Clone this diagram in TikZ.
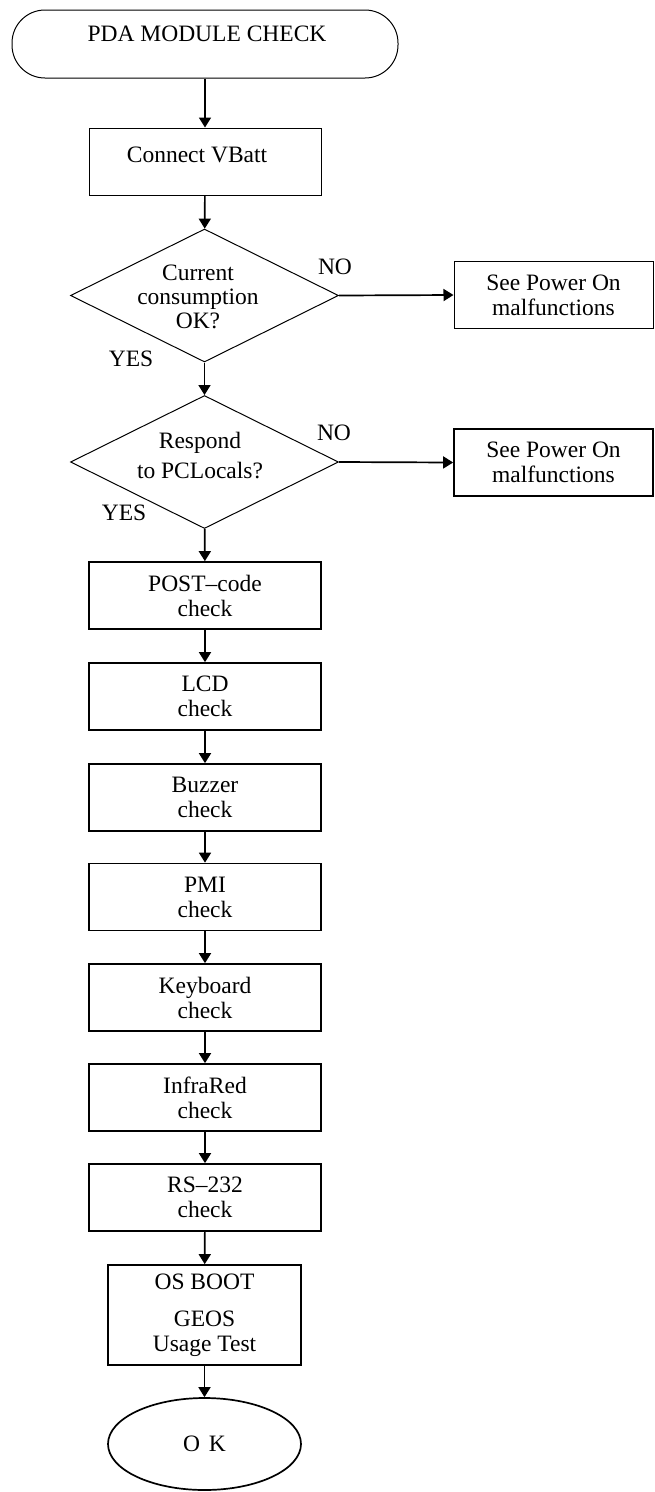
\documentclass[tikz,border=0pt]{standalone}
\usepackage{fontspec}
\setmainfont{Liberation Serif}
\usetikzlibrary{shapes.geometric,arrows.meta}
\begin{document}
\begin{tikzpicture}[x=1pt,y=-1pt,
  every node/.style={font=\fontsize{23.5}{25}\selectfont},
  txt/.style={inner sep=0pt,align=center},
  term/.style={draw,line width=1pt,rounded corners=33pt,minimum width=386pt,minimum height=68pt,inner sep=0pt},
  thinbox/.style={draw,line width=1pt,minimum width=232pt,minimum height=67pt,inner sep=0pt,align=center},
  procbox/.style={draw,line width=1.7pt,minimum width=232pt,minimum height=67pt,inner sep=0pt,align=center},
  sidebox/.style={draw,minimum width=199pt,minimum height=67pt,inner sep=0pt,align=center},
  decision/.style={draw,diamond,line width=1pt,minimum width=268pt,minimum height=133pt,inner sep=0pt},
  endnode/.style={draw,ellipse,line width=1.7pt,minimum width=193pt,minimum height=92pt,inner sep=0pt},
  arr/.style={line width=1.7pt,-{Triangle[length=10pt,width=12pt]}}]
\useasboundingbox (0,0) rectangle (655,1492);

% start
\node[term] (start) at (205,44) {};
\node[txt] (starttxt) at (207,34) {PDA MODULE CHECK};

% connect
\node[thinbox] (cv) at (205,161.5) {};
\node[txt] (cvtxt) at (197,155) {Connect VBatt};

% decision 1
\node[decision] (d1) at (204.5,295.5) {};
\node[txt,font=\fontsize{23.5}{24}\selectfont] (d1txt) at (198,296.5) {Current\\consumption\\OK?};
\node[txt] (no1) at (335,267) {NO};
\node[txt] (yes1) at (131,359) {YES};
\node[sidebox,line width=1pt] (r1) at (553.5,295) {See Power On\\malfunctions};

% decision 2
\node[decision] (d2) at (204.5,462) {};
\node[txt,font=\fontsize{23.5}{30}\selectfont] (d2txt) at (200,456) {Respond\\to PCLocals?};
\node[txt] (no2) at (334,433) {NO};
\node[txt] (yes2) at (124,513) {YES};
\node[sidebox,line width=1.7pt] (r2) at (553.5,462.5) {See Power On\\malfunctions};

% checks
\node[procbox] (post) at (205,595.5) {POST–code\\check};
\node[procbox] (lcd) at (205,696.5) {LCD\\check};
\node[procbox] (buzz) at (205,797.5) {Buzzer\\check};
\node[procbox] (pmi) at (205,897) {PMI\\check};
\node[procbox] (kbd) at (205,997.5) {Keyboard\\check};
\node[procbox] (ir) at (205,1097.5) {InfraRed\\check};
\node[procbox] (rs) at (205,1197.5) {RS–232\\check};
\node[procbox,minimum width=193pt,minimum height=100pt] (os) at (204.5,1315) {OS BOOT\\[12pt]GEOS\\Usage Test};
\node[endnode] (ok) at (204.5,1444) {O\hspace{9pt}K};

% connectors
\draw[arr] (start) -- (cv);
\draw[arr] (cv) -- (d1);
\draw[arr] (d1.east) -- (r1.west);
\draw[arr] (d1) -- (d2);
\draw[arr] (d2.east) -- (r2.west);
\draw[arr] (d2) -- (post);
\draw[arr] (post) -- (lcd);
\draw[arr] (lcd) -- (buzz);
\draw[arr] (buzz) -- (pmi);
\draw[arr] (pmi) -- (kbd);
\draw[arr] (kbd) -- (ir);
\draw[arr] (ir) -- (rs);
\draw[arr] (rs) -- (os);
\draw[arr] (os) -- (ok);
\end{tikzpicture}
\end{document}
